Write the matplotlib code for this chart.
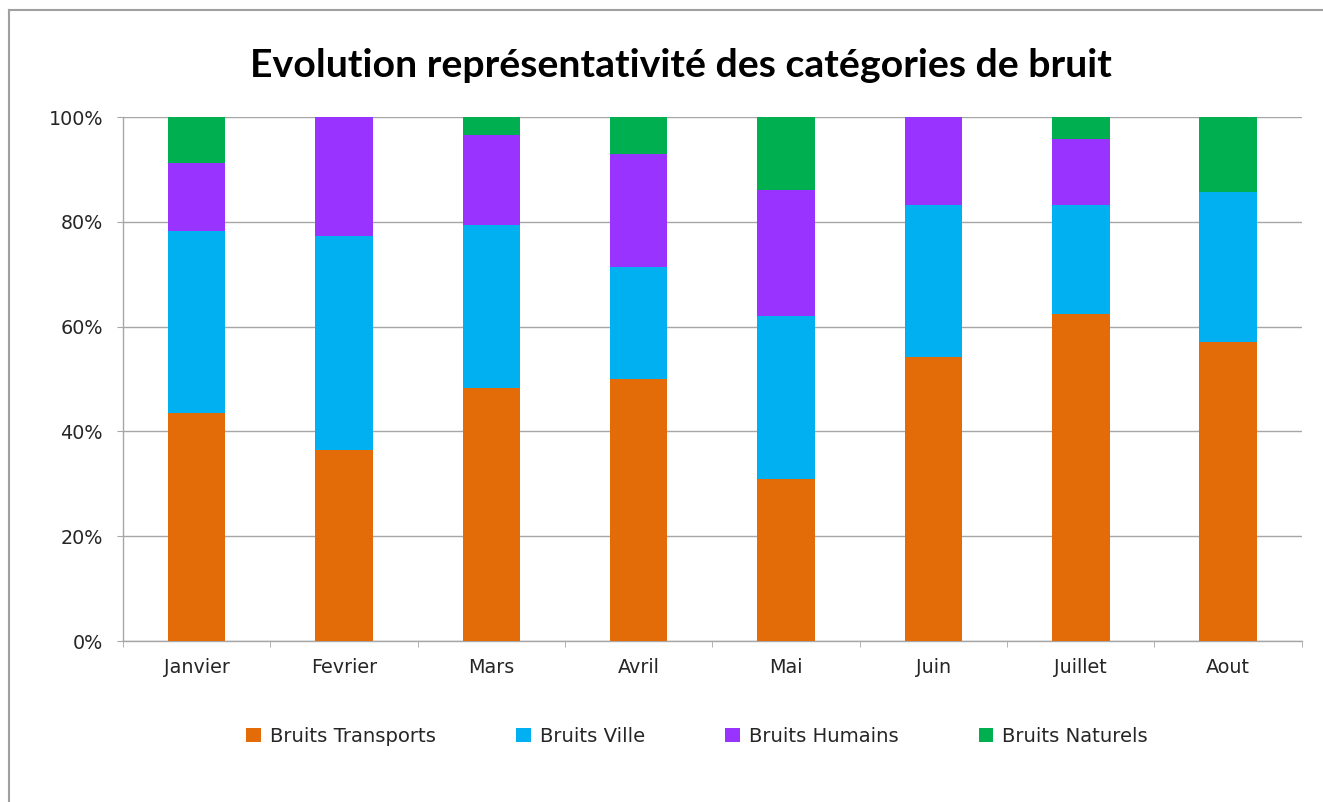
"""Stacked 100% bar chart: evolution of noise categories per month."""

import matplotlib

matplotlib.use("Agg")

import matplotlib.pyplot as plt
import numpy as np
from matplotlib.lines import Line2D
from matplotlib.ticker import FuncFormatter

MONTHS = ["Janvier", "Fevrier", "Mars", "Avril", "Mai", "Juin", "Juillet", "Aout"]
SERIES_NAMES = ["Bruits Transports", "Bruits Ville", "Bruits Humains", "Bruits Naturels"]

# shares in percent
TRANSPORTS = [43.5, 36.4, 48.3, 50.0, 31.0, 54.2, 62.5, 57.1]
VILLE = [34.8, 40.9, 31.0, 21.4, 31.0, 29.1, 20.8, 28.6]
HUMAINS = [13.0, 22.7, 17.2, 21.5, 24.1, 16.7, 12.5, 0.0]
NATURELS = [8.7, 0.0, 3.5, 7.1, 13.9, 0.0, 4.2, 14.3]

COLORS = ["#E36C09", "#00B0F0", "#9933FF", "#00B050"]
GRID_COLOR = "#A6A6A6"
TEXT_COLOR = "#262626"

plt.rcParams["font.family"] = ["DejaVu Sans"]

fig = plt.figure(figsize=(13.23, 8.02), dpi=100)
ax = fig.add_axes([0.093, 0.2007, 0.891, 0.6534])

x = np.arange(len(MONTHS))
bottom = np.zeros(len(MONTHS))
for name, values, color in zip(SERIES_NAMES, [TRANSPORTS, VILLE, HUMAINS, NATURELS], COLORS):
    vals = np.array(values)
    ax.bar(x, vals, width=0.39, bottom=bottom, color=color, label=name, zorder=3)
    bottom += vals

ax.set_xlim(-0.5, len(MONTHS) - 0.5)
ax.set_ylim(0, 100)
ax.set_yticks(np.arange(0, 101, 20))
ax.yaxis.set_major_formatter(FuncFormatter(lambda v, _: f"{v:.0f}%"))
ax.set_xticks(x)
ax.set_xticklabels(MONTHS)
ax.set_xticks(np.arange(-0.5, len(MONTHS)), minor=True)

ax.grid(axis="y", color=GRID_COLOR, linewidth=1.0, zorder=0)
for side in ("top", "right"):
    ax.spines[side].set_visible(False)
for side in ("left", "bottom"):
    ax.spines[side].set_color(GRID_COLOR)
    ax.spines[side].set_linewidth(1.0)

ax.tick_params(axis="y", length=4.5, color=GRID_COLOR, labelsize=13.8, labelcolor=TEXT_COLOR, pad=10)
ax.tick_params(axis="x", which="major", length=0, labelsize=13.8, labelcolor=TEXT_COLOR, pad=12)
ax.tick_params(axis="x", which="minor", length=4.5, color=GRID_COLOR)

fig.text(0.515, 0.918, "Evolution représentativité des catégories de bruit",
         ha="center", va="center", fontsize=28.3, fontweight="bold", color="black",
         family=["Lato", "DejaVu Sans"])

fig.legend(loc="center", bbox_to_anchor=(0.527, 0.082), ncol=4, frameon=False,
           fontsize=14.1, handlelength=0.75, handleheight=0.75, handletextpad=0.45,
           columnspacing=4.1, labelcolor=TEXT_COLOR)

# outer chart frame (only left and top edges visible in the crop)
frame_kw = dict(color="#A0A0A0", linewidth=1.5, transform=fig.transFigure)
fig.add_artist(Line2D([9 / 1323, 9 / 1323], [0, 1 - 10 / 802], **frame_kw))
fig.add_artist(Line2D([9 / 1323, 1], [1 - 10 / 802, 1 - 10 / 802], **frame_kw))

fig.savefig("out.png", dpi=100, facecolor="white")
